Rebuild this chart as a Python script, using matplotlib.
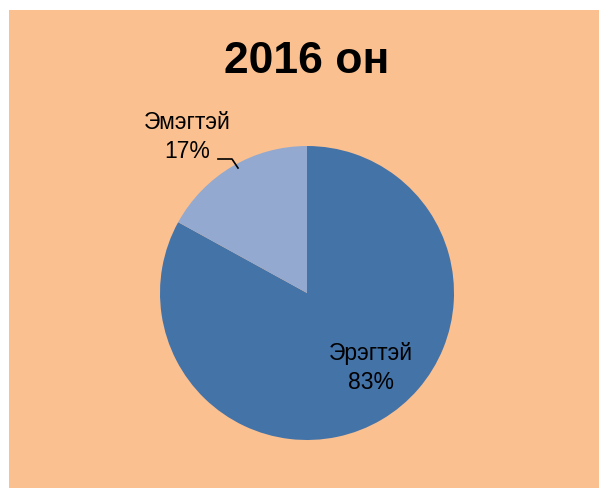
import matplotlib
matplotlib.use("Agg")
import matplotlib.pyplot as plt
from matplotlib.patches import Rectangle

title = "2016 он"
labels = ["Эрэгтэй", "Эмэгтэй"]
shares = [83, 17]
colors = ["#4473A8", "#93A9CF"]

fig = plt.figure(figsize=(6.0, 4.89), dpi=100)
ax = fig.add_axes([0, 0, 1, 1])

# chart area background
ax.add_patch(Rectangle((9, 0), 590, 478, facecolor="#FAC090", edgecolor="none", zorder=0))

wedges, _ = ax.pie(
    shares,
    colors=colors,
    startangle=90,
    counterclock=False,
    center=(307, 195),
    radius=147,
    frame=True,
    wedgeprops={"linewidth": 0},
)
ax.set_xlim(0, 600)
ax.set_ylim(0, 489)
ax.set_aspect("equal")
ax.axis("off")

font = "Liberation Sans"
ax.text(307, 427, title, ha="center", va="center", fontsize=32,
        fontweight="bold", family=font)

ax.text(371, 121, f"{labels[0]}\n{shares[0]}%", ha="center", va="center",
        fontsize=16.5, family=font, linespacing=1.35)
ax.text(187, 352, f"{labels[1]}\n{shares[1]}%", ha="center", va="center",
        fontsize=16.5, family=font, linespacing=1.35)
ax.plot([218, 232, 238], [329, 329, 320], color="black", linewidth=1.2)

fig.savefig("out.png", dpi=100)
